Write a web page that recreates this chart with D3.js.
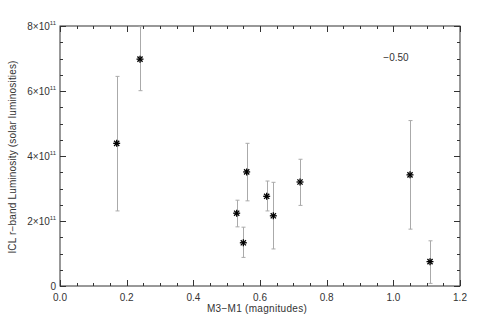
<!DOCTYPE html>
<html><head><meta charset="utf-8">
<script src="https://cdn.jsdelivr.net/npm/d3@7"></script>
<style>body{margin:0;background:#fff}svg{display:block}text{font-family:"Liberation Sans",Arial,sans-serif;fill:#333}</style>
</head><body><svg id="c" width="478" height="322"></svg>
<script>
const xVals = [0.17, 0.24, 0.53, 0.55, 0.56, 0.62, 0.64, 0.72, 1.05, 1.11];
const yVals = [4.39e11, 6.98e11, 2.24e11, 1.33e11, 3.51e11, 2.76e11, 2.16e11, 3.20e11, 3.42e11, 0.75e11];
const yHigh = [6.45e11, 7.98e11, 2.64e11, 1.81e11, 4.39e11, 3.23e11, 3.19e11, 3.90e11, 5.09e11, 1.39e11];
const yLow  = [2.31e11, 6.01e11, 1.82e11, 0.88e11, 2.62e11, 2.31e11, 1.14e11, 2.48e11, 1.75e11, 0.08e11];
const xTicks = [0.0, 0.2, 0.4, 0.6, 0.8, 1.0, 1.2];
const xTickLabels = ["0.0","0.2","0.4","0.6","0.8","1.0","1.2"];
const yTicks = [0, 2e11, 4e11, 6e11, 8e11];
const yTickMant = ["0","2","4","6","8"];
const annotation = "\u22120.50";
const xTitle = "M3\u2212M1  (magnitudes)";
const yTitle = "ICL r\u2212band Luminosity (solar luminosities)";

const svg = d3.select("#c");
const L=60, R=460, T=26, B=286;
const x = d3.scaleLinear().domain([0,1.2]).range([L,R]);
const y = d3.scaleLinear().domain([0,8e11]).range([B,T]);
const axisCol = "#333";

// frame
svg.append("rect").attr("x",L).attr("y",T).attr("width",R-L).attr("height",B-T)
  .attr("fill","none").attr("stroke",axisCol).attr("stroke-width",1);

// minor/major ticks
const xMinor = d3.range(0,1.2001,0.05);
const yMinor = d3.range(0,8.0001e11,0.5e11);
const tk = svg.append("g").attr("stroke",axisCol).attr("stroke-width",1);
xMinor.forEach((v,i)=>{
  const len = (i%4===0)?6:3, px = Math.round(x(v))+0.5;
  tk.append("line").attr("x1",px).attr("x2",px).attr("y1",B).attr("y2",B-len);
  tk.append("line").attr("x1",px).attr("x2",px).attr("y1",T).attr("y2",T+len);
});
yMinor.forEach((v,i)=>{
  const len = (i%4===0)?6:3, py = Math.round(y(v))+0.5;
  tk.append("line").attr("x1",L).attr("x2",L+len).attr("y1",py).attr("y2",py);
  tk.append("line").attr("x1",R).attr("x2",R-len).attr("y1",py).attr("y2",py);
});

// x tick labels
svg.append("g").selectAll("text").data(xTicks).join("text")
  .attr("x",d=>x(d)).attr("y",B+15).attr("text-anchor","middle")
  .attr("font-size",10).text((d,i)=>xTickLabels[i]);

// y tick labels
const yl = svg.append("g").selectAll("text").data(yTicks).join("text")
  .attr("x",L-4).attr("y",d=>y(d)+4).attr("text-anchor","end").attr("font-size",10);
yl.each(function(d,i){
  const t = d3.select(this);
  if(d===0){ t.text("0"); return; }
  t.append("tspan").text(yTickMant[i]+"\u00d710");
  t.append("tspan").attr("font-size",6).attr("dy",-5).text("11");
});

// axis titles
svg.append("text").attr("x",257).attr("y",B+26).attr("text-anchor","middle")
  .attr("font-size",10).attr("letter-spacing",0.3).text(xTitle);
svg.append("text").attr("transform",`translate(16,157) rotate(-90)`)
  .attr("text-anchor","middle").attr("font-size",10).attr("letter-spacing",0.17).text(yTitle);

// annotation
svg.append("text").attr("x",396).attr("y",61).attr("text-anchor","middle")
  .attr("font-size",10).text(annotation);

// error bars
const eb = svg.append("g").attr("stroke","#aaa").attr("stroke-width",1);
xVals.forEach((xv,i)=>{
  const px = Math.round(x(xv))+0.5;
  eb.append("line").attr("x1",px).attr("x2",px).attr("y1",y(yHigh[i])).attr("y2",y(yLow[i]));
  eb.append("line").attr("x1",px-2).attr("x2",px+2).attr("y1",y(yHigh[i])).attr("y2",y(yHigh[i]));
  eb.append("line").attr("x1",px-2).attr("x2",px+2).attr("y1",y(yLow[i])).attr("y2",y(yLow[i]));
});

// asterisk markers
const mk = svg.append("g").attr("stroke","#000").attr("stroke-width",1.3);
xVals.forEach((xv,i)=>{
  const px = x(xv), py = y(yVals[i]), s=3.5, d=2.6;
  mk.append("line").attr("x1",px-s).attr("x2",px+s).attr("y1",py).attr("y2",py);
  mk.append("line").attr("x1",px).attr("x2",px).attr("y1",py-s).attr("y2",py+s);
  mk.append("line").attr("x1",px-d).attr("x2",px+d).attr("y1",py-d).attr("y2",py+d);
  mk.append("line").attr("x1",px-d).attr("x2",px+d).attr("y1",py+d).attr("y2",py-d);
});
</script></body></html>
